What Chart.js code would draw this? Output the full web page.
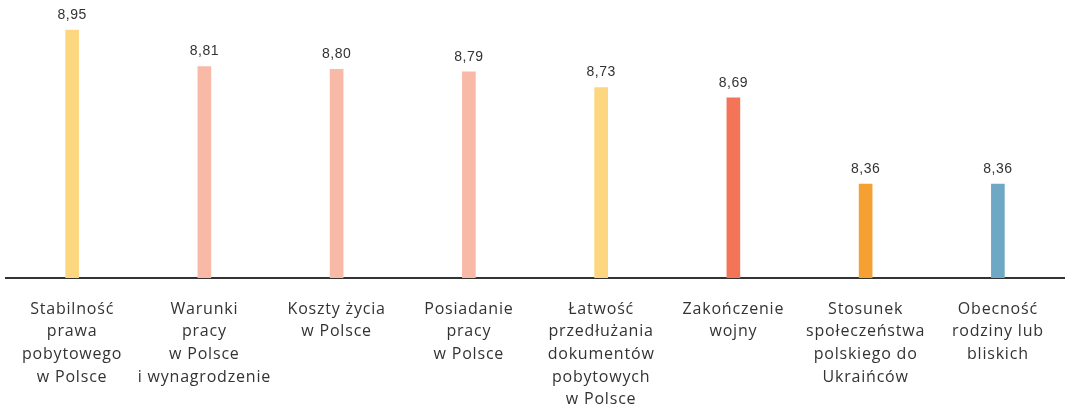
<!DOCTYPE html>
<html>
<head>
<meta charset="utf-8">
<script src="https://cdn.jsdelivr.net/npm/chart.js@4"></script>
<style>
    html, body { margin: 0; padding: 0; background: #fff; }
    #wrap { width: 1065px; height: 404px; }
</style>
</head>
<body>
<div id="wrap"><canvas id="chart"></canvas></div>
<script>
// Categories (multiline labels as in the picture)
const categories = [
    ["Stabilność", "prawa", "pobytowego", "w Polsce"],
    ["Warunki", "pracy", "w Polsce", "i wynagrodzenie"],
    ["Koszty życia", "w Polsce"],
    ["Posiadanie", "pracy", "w Polsce"],
    ["Łatwość", "przedłużania", "dokumentów", "pobytowych", "w Polsce"],
    ["Zakończenie", "wojny"],
    ["Stosunek", "społeczeństwa", "polskiego do", "Ukraińców"],
    ["Obecność", "rodziny lub", "bliskich"]
];
const values = [8.95, 8.81, 8.80, 8.79, 8.73, 8.69, 8.36, 8.36];
const barColors = ["#FCD77F", "#F9B9A7", "#F9B9A7", "#F9B9A7", "#FCD77F", "#F47458", "#F5A033", "#6FA8C4"];

// Wider letter spacing so the labels get closer to the original font
const spacing = {
    id: 'spacing',
    beforeInit(chart) { chart.ctx.letterSpacing = '0.8px'; },
    beforeDraw(chart) { chart.ctx.letterSpacing = '0.8px'; }
};

// Draws the value above each bar, with a decimal comma
const valueLabels = {
    id: 'valueLabels',
    afterDatasetsDraw(chart) {
        let ctx = chart.ctx;
        let meta = chart.getDatasetMeta(0);
        ctx.save();
        ctx.letterSpacing = '0.5px';
        ctx.font = '14px "Liberation Sans", Arial, sans-serif';
        ctx.fillStyle = '#333';
        ctx.textAlign = 'center';
        ctx.textBaseline = 'bottom';
        meta.data.forEach((bar, i) => {
            let text = values[i].toFixed(2).replace('.', ',');
            ctx.fillText(text, bar.x, bar.y - 8);
        });
        ctx.restore();
    }
};

new Chart(document.getElementById('chart'), {
    type: 'bar',
    data: {
        labels: categories,
        datasets: [{
            data: values,
            backgroundColor: barColors,
            barThickness: 13,
            borderWidth: 0
        }]
    },
    options: {
        responsive: true,
        maintainAspectRatio: false,
        animation: false,
        layout: { padding: { left: 6, right: 1, top: 4, bottom: 0 } },
        plugins: {
            legend: { display: false },
            tooltip: { enabled: false }
        },
        scales: {
            x: {
                grid: { display: false },
                border: { display: true, color: '#333', width: 2 },
                afterFit(scale) { scale.height = 126; },
                ticks: {
                    color: '#333',
                    padding: 12,
                    maxRotation: 0,
                    autoSkip: false,
                    font: { family: '"Open Sans", sans-serif', size: 16, lineHeight: 1.41 }
                }
            },
            y: {
                display: false,
                min: 8,
                max: 9.05
            }
        }
    },
    plugins: [spacing, valueLabels]
});
</script>
</body>
</html>
